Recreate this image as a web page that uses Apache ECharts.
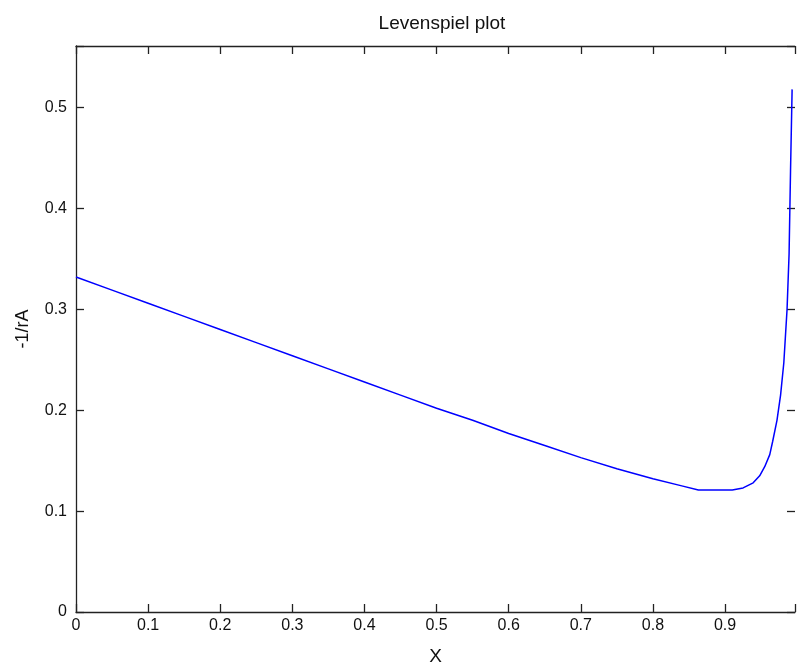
<!DOCTYPE html>
<html>
<head>
<meta charset="utf-8">
<script src="https://cdn.jsdelivr.net/npm/echarts@6/dist/echarts.min.js"></script>
<style>
html,body{margin:0;padding:0;background:#fff;}
#c{width:798px;height:671px;}
</style>
</head>
<body>
<div id="c"></div>
<script>
var titleText = 'Levenspiel plot';
var xName = 'X';
var yName = '-1/rA';
var xValues = [0.00,0.05,0.10,0.15,0.20,0.25,0.30,0.35,0.40,0.45,0.50,0.55,0.60,0.65,0.70,0.75,0.80,0.84,0.863,0.91,0.925,0.939,0.948,0.955,0.962,0.966,0.972,0.977,0.9815,0.986,0.9888,0.9908,0.993];
var yValues = [0.332,0.319,0.306,0.293,0.280,0.267,0.254,0.241,0.228,0.215,0.202,0.190,0.177,0.165,0.153,0.142,0.132,0.125,0.121,0.121,0.123,0.128,0.135,0.144,0.156,0.169,0.190,0.215,0.247,0.300,0.355,0.437,0.518];
var xTickLabels = ['0','0.1','0.2','0.3','0.4','0.5','0.6','0.7','0.8','0.9'];
var yTickLabels = ['0','0.1','0.2','0.3','0.4','0.5'];

var pts = xValues.map(function(x,i){return [x,yValues[i]];});
var font = 'Liberation Sans, Arial, sans-serif';
function fmtX(v){var s=Math.round(v*10); return (s>=0 && s<xTickLabels.length && Math.abs(v*10-s)<1e-6)?xTickLabels[s]:'';}
function fmtY(v){var s=Math.round(v*10); return (s>=0 && s<yTickLabels.length && Math.abs(v*10-s)<1e-6)?yTickLabels[s]:'';}
var axisLine = {show:true,onZero:false,lineStyle:{color:'#222',width:1.3}};
var tick = {show:true,inside:true,length:8,lineStyle:{color:'#222',width:1.3}};
var chart = echarts.init(document.getElementById('c'),null,{renderer:'canvas'});
chart.setOption({
  animation:false,
  backgroundColor:'#fff',
  title:{text:titleText,left:437,top:9,textAlign:'center',textStyle:{fontFamily:font,fontSize:19,fontWeight:'normal',color:'#111'}},
  grid:{left:76,right:-2,top:46,height:574},
  xAxis:[{type:'value',min:0,max:0.997,interval:0.1,
    name:xName,nameLocation:'middle',nameGap:35,nameTextStyle:{fontFamily:font,fontSize:19,color:'#111'},
    axisLine:axisLine,axisTick:tick,splitLine:{show:false},
    axisLabel:{formatter:fmtX,fontFamily:font,fontSize:16,color:'#111',margin:6}},
   {type:'value',position:'top',min:0,max:0.997,interval:0.1,
    axisLine:axisLine,axisTick:tick,splitLine:{show:false},axisLabel:{show:false}}],
  yAxis:[{type:'value',min:0,max:0.561,interval:0.1,
    name:yName,nameLocation:'middle',nameGap:44,nameRotate:90,nameTextStyle:{fontFamily:font,fontSize:18,color:'#111'},
    axisLine:axisLine,axisTick:tick,splitLine:{show:false},
    axisLabel:{formatter:fmtY,fontFamily:font,fontSize:16,color:'#111',margin:9}},
   {type:'value',position:'right',min:0,max:0.561,interval:0.1,
    axisLine:{show:false,onZero:false},axisTick:tick,splitLine:{show:false},axisLabel:{show:false}}],
  series:[{type:'line',data:pts,showSymbol:false,smooth:false,
    lineStyle:{color:'#0000ff',width:1.5},clip:true}]
});
</script>
</body>
</html>
